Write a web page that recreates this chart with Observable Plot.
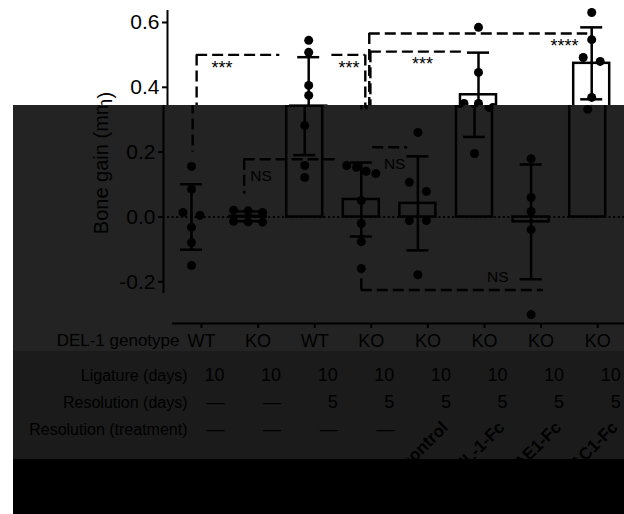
<!DOCTYPE html>
<html><head><meta charset="utf-8">
<script src="https://cdn.jsdelivr.net/npm/d3@7"></script>
<script src="https://cdn.jsdelivr.net/npm/@observablehq/plot@0.6"></script>
<style>
html,body{margin:0;padding:0;background:#fff;}
#wrap{position:relative;width:624px;height:514px;overflow:hidden;}
.bg{position:absolute;left:13px;right:0;}
.layer{position:absolute;left:0;width:624px;overflow:hidden;}
</style></head><body>
<div id="wrap">
 <div class="bg" style="top:105px;height:246px;background:#232323"></div>
 <div class="bg" style="top:351px;height:108px;background:#1b1b1b"></div>
 <div class="bg" style="top:459px;height:55px;background:#000"></div>
</div>
<script>
// ---------- data ----------
const categories = [1, 2, 3, 4, 5, 6, 7, 8];
const genotype = ["WT", "KO", "WT", "KO", "KO", "KO", "KO", "KO"];
const ligatureDays = ["10", "10", "10", "10", "10", "10", "10", "10"];
const resolutionDays = ["—", "—", "5", "5", "5", "5", "5", "5"];
const treatment = ["—", "—", "—", "—", "control", "DEL-1-Fc", "ΔE1-Fc", "ΔC1-Fc"];
const rowLabels = ["DEL-1 genotype", "Ligature (days)", "Resolution (days)", "Resolution (treatment)"];
const yTicks = [-0.2, 0, 0.2, 0.4, 0.6];
const yTitle = "Bone gain (mm)";

const means = [0.0, 0.002, 0.342, 0.054, 0.042, 0.377, -0.015, 0.474];
const sds = [0.101, 0.015, 0.151, 0.114, 0.145, 0.130, 0.177, 0.111];

const g1 = [0.156, 0.085, 0.014, 0.005, -0.032, -0.079, -0.150];
const g2 = [0.021, 0.019, 0.014, -0.013, -0.015, -0.016];
const g3 = [0.545, 0.508, 0.406, 0.375, 0.282, 0.159, 0.122];
const g4 = [0.159, 0.153, 0.141, 0.134, 0.051, -0.020, -0.076, -0.159];
const g5 = [0.261, 0.107, 0.079, -0.011, -0.011, -0.178];
const g6 = [0.585, 0.446, 0.350, 0.350, 0.338, 0.196];
const g7 = [0.180, 0.060, 0.017, -0.039, -0.301];
const g8 = [0.631, 0.547, 0.492, 0.480, 0.369, 0.332];
const groups = [g1, g2, g3, g4, g5, g6, g7, g8];

// significance brackets (x in category units, y in mm)
const bracketX1 = [1.02, 3.41, 1.93, 4.09, 4.07, 4.20, 4.00];
const bracketX2 = [2.49, 4.00, 3.58, 5.76, 7.93, 4.82, 7.22];
const bracketY = [0.500, 0.500, 0.178, 0.510, 0.566, 0.215, -0.225];
const bracketLabels = ["***", "***", "NS", "***", "****", "NS", "NS"];
const bracketLabelX = [1.47, 3.71, 2.23, 5.01, 7.52, 4.59, 6.41];
const legX = [1.02, 4.00, 1.93, 4.09, 4.07, 4.00];
const legY1 = [0.500, 0.500, 0.178, 0.510, 0.566, -0.225];
const legY2 = [0.200, 0.330, 0.070, 0.330, 0.330, -0.175];

// ---------- layout ----------
const W = 624, H = 514;
const mLeft = 163, mTop = 10, frameBottom = 293;
const PX = 56.6, x0 = 191;             // pixels per category, pixel of category 1
const yDom = [-0.236, 0.637];
const xDom = [1 - (x0 - mLeft) / PX, 1 + (W - x0) / PX];
const PXY = (frameBottom - mTop) / (yDom[1] - yDom[0]);
const R = 4.5, BAR = 36 / PX, CAP = 22 / PX;
const font = "'Liberation Sans', Arial, Helvetica, sans-serif";
const SPLIT = 105;

// beeswarm-like horizontal spreading of points sharing a level
const points = [];
groups.forEach((vals, gi) => {
  const sorted = vals.slice().sort((a, b) => b - a);
  const clusters = [];
  for (const v of sorted) {
    const c = clusters[clusters.length - 1];
    if (c && (c[0] - v) * PXY < 2 * R + 0.6) c.push(v); else clusters.push([v]);
  }
  for (const c of clusters) {
    const n = c.length;
    const sp = n === 1 ? 0 : n === 2 ? 17 : n === 3 ? 14.5 : 9.7;
    c.forEach((v, j) => points.push({x: categories[gi] + (j - (n - 1) / 2) * sp / PX, y: v}));
  }
});

const stats = categories.map((c, i) => ({c, m: means[i], lo: means[i] - sds[i], hi: means[i] + sds[i]}));
const brackets = bracketY.map((y, i) => ({x1: bracketX1[i], x2: bracketX2[i], y, label: bracketLabels[i], lx: bracketLabelX[i]}));
const legs = legX.map((x, i) => ({x, y1: legY1[i], y2: legY2[i]}));
const dash = "11,5";

const rowMarks = [];
rowLabels.forEach((t, r) => {
  rowMarks.push(Plot.text([t], {frameAnchor: "bottom-left", dx: r === 0 ? 16 : 24, dy: r === 0 ? 52 : 60 + r * 27,
    textAnchor: "end", fontSize: r === 0 ? 17 : 16}));
});
rowMarks.push(Plot.text(categories, {x: d => d, frameAnchor: "bottom", text: d => genotype[d - 1],
  dx: 10, dy: 53, fontSize: 18}));
[ligatureDays, resolutionDays].forEach((arr, r) => {
  rowMarks.push(Plot.text(categories, {x: d => d, frameAnchor: "bottom", text: d => arr[d - 1],
    dx: 33, dy: 87 + r * 27, textAnchor: "end", fontSize: 18}));
});
rowMarks.push(Plot.text(categories.filter(d => treatment[d - 1] === "—"), {x: d => d, frameAnchor: "bottom",
  text: d => treatment[d - 1], dx: 33, dy: 141, textAnchor: "end", fontSize: 18}));
rowMarks.push(Plot.text(categories.filter(d => treatment[d - 1] !== "—"), {x: d => d, frameAnchor: "bottom",
  text: d => treatment[d - 1], dx: 31, dy: 135, rotate: -45, textAnchor: "end", fontSize: 17, fontWeight: "bold"}));

const svg = Plot.plot({
  width: W, height: H,
  marginLeft: mLeft, marginRight: 0, marginTop: mTop, marginBottom: H - frameBottom,
  style: {background: "transparent", fontFamily: font, color: "#000", overflow: "visible"},
  x: {domain: xDom, axis: null},
  y: {domain: yDom},
  marks: [
    Plot.axisY({ticks: yTicks, tickSize: 5, tickPadding: 3, fontSize: 21, strokeWidth: 2,
      tickFormat: d => d.toFixed(1), label: null}),
    Plot.ruleX([xDom[0]], {strokeWidth: 2}),
    Plot.ruleY([yDom[0]], {x1: xDom[0] + 9 / PX, x2: xDom[1], dy: 30, strokeWidth: 2}),
    Plot.ruleX(categories, {x: d => d, y1: yDom[0], y2: yDom[0] - 5 / PXY, dy: 30, dx: 10, strokeWidth: 2}),
    Plot.ruleY([0], {x1: xDom[0] + 4 / PX, x2: xDom[1], strokeDasharray: "2,2.6", strokeWidth: 2}),
    Plot.rect(stats, {x1: d => d.c - BAR / 2, x2: d => d.c + BAR / 2, y1: 0, y2: "m",
      fill: "none", stroke: "black", strokeWidth: 2.5}),
    Plot.dot(points, {x: "x", y: "y", r: R, fill: "black", stroke: "none"}),
    Plot.ruleX(stats, {x: "c", y1: "lo", y2: "hi", strokeWidth: 2.5}),
    Plot.ruleY(stats, {y: "hi", x1: d => d.c - CAP / 2, x2: d => d.c + CAP / 2, strokeWidth: 2.5}),
    Plot.ruleY(stats, {y: "lo", x1: d => d.c - CAP / 2, x2: d => d.c + CAP / 2, strokeWidth: 2.5}),
    Plot.ruleY(brackets, {y: "y", x1: "x1", x2: "x2", strokeDasharray: dash, strokeWidth: 2.4}),
    Plot.ruleX(legs, {x: "x", y1: "y1", y2: "y2", strokeDasharray: dash, strokeWidth: 2.4}),
    Plot.text(brackets.filter(b => b.label.startsWith("*")), {x: "lx", y: "y", text: "label",
      lineAnchor: "top", dy: 6, fontSize: 18}),
    Plot.text(brackets.filter(b => !b.label.startsWith("*") && b.y > 0), {x: "lx", y: "y", text: "label",
      lineAnchor: "top", dy: 11, fontSize: 15.5}),
    Plot.text(brackets.filter(b => !b.label.startsWith("*") && b.y < 0), {x: "lx", y: "y", text: "label",
      lineAnchor: "bottom", dy: -8, fontSize: 15.5}),
    Plot.text([yTitle], {frameAnchor: "left", rotate: -90, dx: -62, dy: 11, fontSize: 20, textAnchor: "middle"}),
    ...rowMarks
  ]
});

// compose: upper strip slightly offset, lower part over the dark panels
const wrap = document.getElementById("wrap");
const topLayer = document.createElement("div");
topLayer.className = "layer"; topLayer.style.top = "0px"; topLayer.style.height = SPLIT + "px";
const s1 = svg.cloneNode(true);
s1.style.position = "absolute"; s1.style.left = "4px"; s1.style.top = "0px";
topLayer.appendChild(s1);
const botLayer = document.createElement("div");
botLayer.className = "layer"; botLayer.style.top = SPLIT + "px"; botLayer.style.height = (H - SPLIT) + "px";
svg.style.position = "absolute"; svg.style.left = "0px"; svg.style.top = (-SPLIT) + "px";
botLayer.appendChild(svg);
wrap.appendChild(topLayer);
wrap.appendChild(botLayer);
</script>
</body></html>
